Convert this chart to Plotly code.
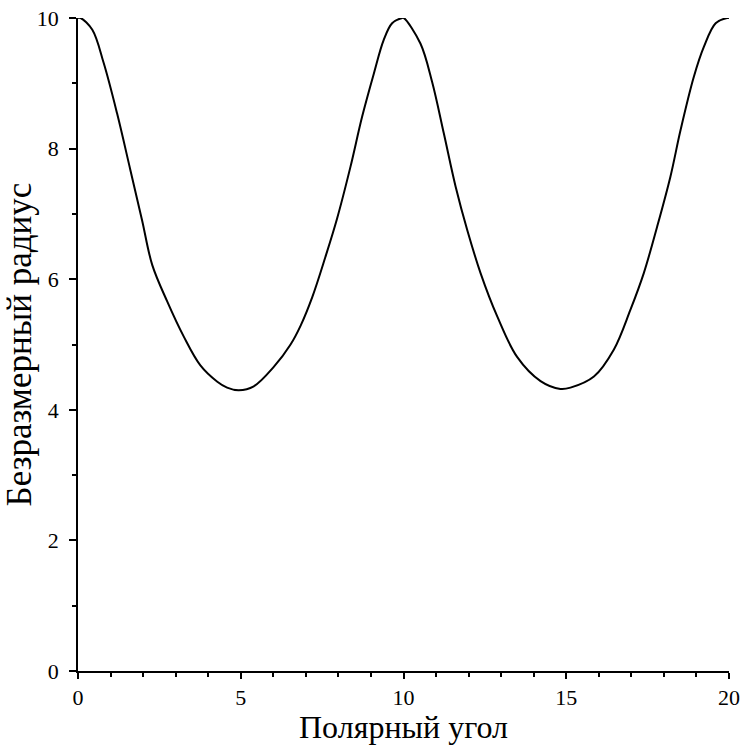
import plotly.graph_objects as go

# Values
angle = [0.0, 0.08, 0.44, 0.79, 1.20, 1.61, 1.97, 2.28, 2.74, 3.25, 3.76, 4.28, 4.58, 4.94,
         5.40, 6.02, 6.53, 6.84, 7.20, 7.60, 7.96, 8.37, 8.73, 9.09, 9.39, 9.65, 9.96,
         10.01, 10.52, 10.88, 11.24, 11.60, 11.96, 12.37, 12.88, 13.49, 14.21, 14.82,
         15.13, 15.85, 16.46, 16.97, 17.38, 17.79, 18.20, 18.51, 18.92, 19.23, 19.59, 19.94, 20.0]
radius = [10.0, 10.0, 9.82, 9.31, 8.54, 7.67, 6.90, 6.22, 5.66, 5.12, 4.68, 4.43, 4.34, 4.30,
          4.36, 4.66, 5.00, 5.29, 5.73, 6.34, 6.93, 7.72, 8.49, 9.15, 9.66, 9.92, 10.0,
          10.0, 9.61, 9.02, 8.23, 7.42, 6.75, 6.09, 5.43, 4.81, 4.44, 4.32,
          4.34, 4.51, 4.92, 5.53, 6.09, 6.80, 7.57, 8.28, 9.10, 9.56, 9.92, 10.0, 10.0]

x_ticks = [0, 5, 10, 15, 20]
y_ticks = [0, 2, 4, 6, 8, 10]
x_title = "Полярный угол"
y_title = "Безразмерный радиус"

FONT = "Liberation Serif, Times New Roman, serif"

fig = go.Figure()
fig.add_trace(go.Scatter(
    x=angle, y=radius, mode="lines",
    line=dict(color="black", width=2, shape="spline", smoothing=1.0),
    cliponaxis=False, showlegend=False,
))

fig.update_layout(
    width=742, height=745,
    margin=dict(l=78, r=13, t=18, b=74, pad=0, autoexpand=False),
    paper_bgcolor="white", plot_bgcolor="white",
    font=dict(family=FONT, color="black", size=22),
    xaxis=dict(
        range=[0, 20], tickvals=x_ticks, ticktext=[str(v) for v in x_ticks],
        automargin=False,
        showgrid=False, zeroline=False, showline=True, linecolor="black", linewidth=1.5,
        ticks="outside", ticklen=6, tickwidth=1.5, tickcolor="black",
        minor=dict(dtick=1, ticks="outside", ticklen=4, tickwidth=1.5, tickcolor="black", showgrid=False),
        tickfont=dict(family=FONT, size=22, color="black"),
        title=dict(text=x_title, font=dict(family=FONT, size=32, color="black"), standoff=0),
    ),
    yaxis=dict(
        range=[0, 10], tickvals=y_ticks, ticktext=[str(v) for v in y_ticks],
        automargin=False,
        showgrid=False, zeroline=False, showline=True, linecolor="black", linewidth=1.5,
        ticks="outside", ticklen=7, tickwidth=1.5, tickcolor="black",
        minor=dict(dtick=1, ticks="outside", ticklen=4, tickwidth=1.5, tickcolor="black", showgrid=False),
        tickfont=dict(family=FONT, size=22, color="black"),
        ticklabelstandoff=6,
        title=dict(text=y_title, font=dict(family=FONT, size=35, color="black"), standoff=4),
    ),
)

fig.write_html("out.html")
